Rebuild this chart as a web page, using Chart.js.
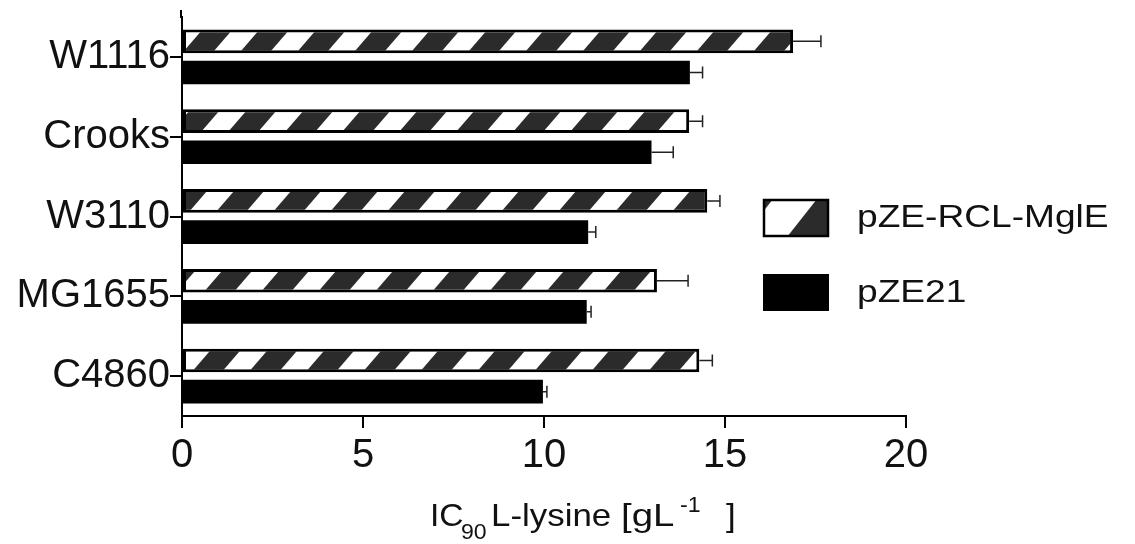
<!DOCTYPE html>
<html>
<head>
<meta charset="utf-8">
<script src="https://cdn.jsdelivr.net/npm/chart.js@4/dist/chart.umd.min.js"></script>
<style>
  html, body { margin: 0; padding: 0; background: #fff; }
  canvas { display: block; }
</style>
</head>
<body>
<canvas id="chart" width="1135" height="544"></canvas>
<script>
const categories = ['W1116', 'Crooks', 'W3110', 'MG1655', 'C4860'];
const seriesNames = ['pZE-RCL-MglE', 'pZE21'];
const rclValues = [16.88, 14.01, 14.51, 13.12, 14.29];
const rclErrors = [0.77, 0.37, 0.35, 0.86, 0.36];
const pze21Values = [14.03, 12.97, 11.22, 11.18, 9.97];
const pze21Errors = [0.35, 0.60, 0.21, 0.12, 0.11];
const xTicks = [0, 5, 10, 15, 20];

const FONT = '"Liberation Sans", Arial, Helvetica, sans-serif';
const canvas = document.getElementById('chart');
const ctx = canvas.getContext('2d');

// diagonal stripes for the hatched series (period 57px along x)
const makeHatch = () => {
    const w = 57, h = 66, dark = 30;
    const tile = document.createElement('canvas');
    tile.width = w; tile.height = h;
    const g = tile.getContext('2d');
    g.fillStyle = '#fff';
    g.fillRect(0, 0, w, h);
    g.fillStyle = '#2b2b2b';
    for (let k = -2; k <= 1; k++) {
        const x0 = k * w;
        g.beginPath();
        g.moveTo(x0, h);
        g.lineTo(x0 + dark, h);
        g.lineTo(x0 + dark + w, 0);
        g.lineTo(x0 + w, 0);
        g.closePath();
        g.fill();
    }
    return ctx.createPattern(tile, 'repeat');
};
const hatch = makeHatch();

const errorBars = {
    id: 'errorBars',
    afterDatasetsDraw(chart) {
        const c = chart.ctx;
        const xs = chart.scales.x;
        const errs = [rclErrors, pze21Errors];
        const vals = [rclValues, pze21Values];
        c.save();
        c.strokeStyle = '#222';
        c.lineWidth = 1.5;
        chart.data.datasets.forEach((ds, di) => {
            chart.getDatasetMeta(di).data.forEach((bar, i) => {
                const xEnd = xs.getPixelForValue(vals[di][i] + errs[di][i]);
                c.beginPath();
                c.moveTo(bar.x, bar.y);
                c.lineTo(xEnd, bar.y);
                c.moveTo(xEnd, bar.y - 6);
                c.lineTo(xEnd, bar.y + 6);
                c.stroke();
            });
        });
        c.restore();
    }
};

// text drawn a bit wider than the font, as in the original figure
const wideText = (c, txt, x, y, sx) => {
    c.save();
    c.translate(x, y);
    c.scale(sx, 1);
    c.fillText(txt, 0, 0);
    c.restore();
};

const extras = {
    id: 'extras',
    afterDraw(chart) {
        const c = chart.ctx;
        const ys = chart.scales.y;
        c.save();
        // y axis runs a little above the first band
        c.strokeStyle = '#000';
        c.lineWidth = 2;
        c.beginPath();
        c.moveTo(ys.right - 1, 10);
        c.lineTo(ys.right - 1, chart.chartArea.top + 1);
        c.stroke();

        // legend
        const bx = 763, bw = 66;
        c.save();
        c.beginPath();
        c.rect(bx, 199, bw, 38);
        c.clip();
        c.fillStyle = '#fff';
        c.fillRect(bx, 199, bw, 38);
        c.fillStyle = '#2b2b2b';
        [-58, 24].forEach(x0 => {
            c.beginPath();
            c.moveTo(bx + x0, 237);
            c.lineTo(bx + x0 + 38, 237);
            c.lineTo(bx + x0 + 38 + 30, 199);
            c.lineTo(bx + x0 + 30, 199);
            c.closePath();
            c.fill();
        });
        c.restore();
        c.strokeStyle = '#000';
        c.lineWidth = 2.5;
        c.strokeRect(bx + 1, 200, bw - 2, 36);
        c.fillStyle = '#000';
        c.fillRect(bx, 274, bw, 37);

        c.fillStyle = '#111';
        c.font = '32px ' + FONT;
        c.textBaseline = 'alphabetic';
        c.textAlign = 'left';
        wideText(c, seriesNames[0], 857, 227, 1.16);
        wideText(c, seriesNames[1], 857, 302, 1.16);

        // x axis title with sub/superscript
        c.font = '32px ' + FONT;
        wideText(c, 'IC', 430, 526, 1.05);
        wideText(c, 'L-lysine', 491, 526, 1.09);
        wideText(c, '[gL', 621, 526, 1.2);
        wideText(c, ']', 726, 526, 1.09);
        c.font = '22px ' + FONT;
        wideText(c, '90', 461, 539, 1.05);
        wideText(c, '-1', 680, 512, 1.05);
        c.restore();
    }
};

new Chart(ctx, {
    type: 'bar',
    data: {
        labels: categories,
        datasets: [{
            label: seriesNames[0],
            data: rclValues,
            backgroundColor: hatch,
            borderColor: '#000',
            borderWidth: 3,
            borderSkipped: false
        }, {
            label: seriesNames[1],
            data: pze21Values,
            backgroundColor: '#000',
            borderWidth: 0
        }]
    },
    options: {
        indexAxis: 'y',
        responsive: false,
        devicePixelRatio: 1,
        animation: false,
        categoryPercentage: 0.78,
        barPercentage: 0.76,
        layout: { padding: { top: 17, right: 229, bottom: 0, left: 0 } },
        plugins: { legend: { display: false }, tooltip: { enabled: false } },
        scales: {
            x: {
                min: 0,
                max: 20,
                afterBuildTicks: scale => { scale.ticks = xTicks.map(v => ({ value: v })); },
                afterFit: scale => { scale.height = 128; },
                grid: { drawOnChartArea: false, drawTicks: true, tickLength: 12, color: '#000', lineWidth: 2 },
                border: { display: true, color: '#000', width: 2 },
                ticks: { color: '#111', padding: 4, font: { family: FONT, size: 40 } }
            },
            y: {
                afterFit: scale => { scale.width = 182; },
                grid: { offset: false, drawOnChartArea: false, drawTicks: true, tickLength: 12, color: '#000', lineWidth: 2 },
                border: { display: true, color: '#000', width: 2 },
                ticks: { color: '#111', padding: 0, font: { family: FONT, size: 40, lineHeight: 0.6 } }
            }
        }
    },
    plugins: [errorBars, extras]
});
</script>
</body>
</html>
